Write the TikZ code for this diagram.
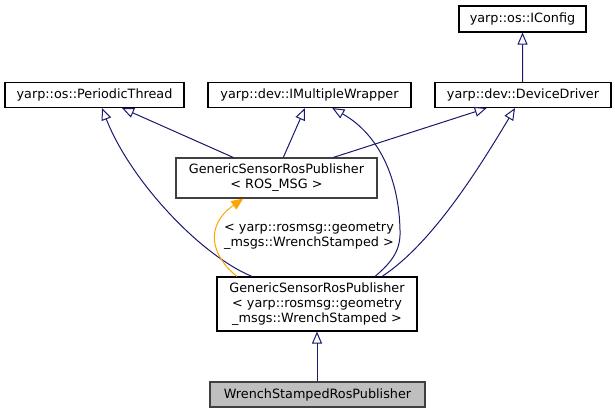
\documentclass[tikz,border=0pt]{standalone}
\usepackage{fontspec}
\setmainfont{DejaVu Sans}
\usetikzlibrary{arrows.meta}
\definecolor{edgeblue}{HTML}{191970}
\definecolor{boxgray}{HTML}{404040}
\definecolor{curfill}{HTML}{BFBFBF}
\definecolor{tmplorange}{HTML}{FFA500}
\begin{document}
\begin{tikzpicture}[x=1bp,y=-1bp,
  every node/.style={font=\fontsize{12.8bp}{15bp}\selectfont},
  cls/.style={draw=black,line width=1.1bp,fill=white,inner sep=0pt,align=center},
  grayed/.style={cls,draw=boxgray},
  cur/.style={cls,draw=boxgray,fill=curfill},
  inh/.style={draw=edgeblue,line width=1bp,-{Triangle[open,length=12bp,width=10bp]}},
  tmpl/.style={draw=tmplorange,line width=1bp,-{Triangle[length=12bp,width=10bp]},fill=none},
  lbl/.style={align=center,inner sep=0pt}]
\useasboundingbox (0,0) rectangle (615,413);
\node[cls,minimum width=127bp,minimum height=26bp] (ic) at (522.5,19) {yarp::os::IConfig};
\node[cls,minimum width=179bp,minimum height=25bp] (pt) at (94.5,95) {yarp::os::PeriodicThread};
\node[cls,minimum width=203bp,minimum height=25bp] (mw) at (309.5,95) {yarp::dev::IMultipleWrapper};
\node[cls,minimum width=176bp,minimum height=25bp] (dd) at (523,95) {yarp::dev::DeviceDriver};
\node[grayed,minimum width=201bp,minimum height=40bp] (gs) at (276.5,178) {GenericSensorRosPublisher\\{\textless} ROS\_MSG {\textgreater}};
\node[cls,minimum width=200bp,minimum height=54bp] (mid) at (317,304) {GenericSensorRosPublisher\\{\textless} yarp::rosmsg::geometry\\\_msgs::WrenchStamped {\textgreater}};
\node[cur,minimum width=215bp,minimum height=25bp] (wr) at (317.5,394.5) {WrenchStampedRosPublisher};
\node[lbl] (lab) at (309,236.5) {{\textless} yarp::rosmsg::geometry\\\_msgs::WrenchStamped {\textgreater}};

\draw[inh] ([xshift=-0.5bp]dd.north) -- (ic.south);
\draw[inh] ([xshift=-43.2bp]gs.north) -- ([xshift=27.5bp]pt.south);
\draw[inh] ([xshift=6.8bp]gs.north) -- ([xshift=-4.5bp]mw.south);
\draw[inh] ([xshift=56.8bp]gs.north) -- ([xshift=-36.3bp]dd.south);
\draw[inh] ([xshift=-65bp]mid.north) .. controls (200,255) and (130,180) .. ([xshift=7.5bp]pt.south);
\draw[inh] ([xshift=58bp]mid.north) .. controls (392,262) and (401,250) .. (400,230)
  .. controls (399,180) and (380,135) .. ([xshift=22.8bp]mw.south);
\draw[inh] ([xshift=65bp]mid.north) .. controls (430,245) and (475,175) .. ([xshift=-8bp]dd.south);
\draw[tmpl] ([xshift=-80bp]mid.north) .. controls (210,255) and (205,225) .. ([xshift=-33.2bp]gs.south);
\draw[inh] ([xshift=-0.5bp]wr.north) -- (mid.south);
\end{tikzpicture}
\end{document}
